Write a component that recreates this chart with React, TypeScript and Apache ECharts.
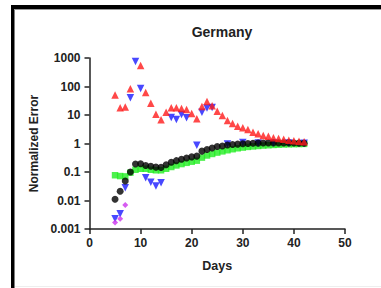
import React, { useEffect, useRef } from "react";
import * as echarts from "echarts";

const redDays = [5, 6, 7, 8, 10, 11, 12, 13, 14, 15, 16, 17, 18, 19, 20, 21, 22, 23, 24, 25, 26, 27, 28, 29, 30, 31, 32, 33, 34, 35, 36, 37, 38, 39, 40, 41, 42];
const redValues = [50, 18, 19, 83, 550, 62, 26, 10.7, 6.8, 12.6, 18, 18, 17, 15.5, 11.3, 7.4, 20, 30, 21, 13.5, 9.6, 6.4, 5.0, 4.0, 3.6, 3.1, 2.5, 2.2, 1.9, 1.8, 1.6, 1.5, 1.4, 1.3, 1.25, 1.2, 1.15];

const blueDays = [5, 6, 7, 8, 9, 10, 11, 12, 13, 14, 16, 17, 18, 19, 21, 22, 23, 24, 27, 30, 33, 36, 39, 42];
const blueValues = [0.0023, 0.0034, 0.028, 40, 750, 85, 0.063, 0.044, 0.032, 0.042, 8.2, 6.9, 10.4, 8, 0.87, 12.5, 17.5, 18.5, 0.97, 1.08, 1.05, 1.05, 1.04, 1.02];

const blackDays = [5, 6, 7, 8, 9, 10, 11, 12, 13, 14, 15, 16, 17, 18, 19, 20, 21, 22, 23, 24, 25, 26, 27, 28, 29, 30, 31, 32, 33, 34, 35, 36, 37, 38, 39, 40, 41, 42];
const blackValues = [0.011, 0.021, 0.048, 0.1, 0.19, 0.195, 0.17, 0.16, 0.148, 0.145, 0.18, 0.22, 0.25, 0.28, 0.31, 0.34, 0.36, 0.54, 0.62, 0.7, 0.78, 0.82, 0.88, 0.92, 0.95, 0.98, 1.0, 1.02, 1.03, 1.04, 1.05, 1.05, 1.05, 1.05, 1.05, 1.04, 1.03, 1.02];

const greenDays = [5, 6, 7, 8, 9, 10, 11, 12, 13, 14, 15, 16, 17, 18, 19, 20, 21, 22, 23, 24, 25, 26, 27, 28, 29, 30, 31, 32, 33, 34, 35, 36, 37, 38, 39, 40, 41, 42];
const greenValues = [0.077, 0.072, 0.07, 0.095, 0.12, 0.13, 0.13, 0.12, 0.115, 0.115, 0.13, 0.15, 0.17, 0.19, 0.21, 0.23, 0.25, 0.32, 0.38, 0.43, 0.48, 0.53, 0.58, 0.63, 0.68, 0.72, 0.76, 0.79, 0.82, 0.85, 0.87, 0.89, 0.91, 0.93, 0.94, 0.95, 0.96, 0.97];

const purpleDays = [5, 6, 7];
const purpleValues = [0.0017, 0.0023, 0.0069];

const yTickLabels = ["0.001", "0.01", "0.1", "1", "10", "100", "1000"];

const pairs = (xs: number[], ys: number[]) => xs.map((x, i) => [x, ys[i]]);

export default function App() {
  const ref = useRef<HTMLDivElement>(null);
  useEffect(() => {
    if (!ref.current) return;
    const chart = echarts.init(ref.current, undefined, { renderer: "svg" });
    const font = "'Liberation Sans', Arial, sans-serif";
    const axisColor = "#222";
    chart.setOption({
      animation: false,
      backgroundColor: "#fff",
      title: {
        text: "Germany",
        left: 217,
        top: 20,
        textAlign: "center",
        textStyle: { fontFamily: font, fontWeight: "bold", fontSize: 14, color: "#222" },
      },
      grid: { left: 89.5, top: 58, width: 255.5, height: 171, containLabel: false },
      xAxis: {
        type: "value",
        min: 0,
        max: 50,
        interval: 10,
        name: "Days",
        nameLocation: "middle",
        nameGap: 30,
        nameTextStyle: { fontFamily: font, fontWeight: "bold", fontSize: 12.5, color: "#222" },
        axisLine: { onZero: false, lineStyle: { color: axisColor, width: 1.5 } },
        axisTick: { show: true, inside: false, length: 5, lineStyle: { color: axisColor, width: 1.5 } },
        axisLabel: { margin: 8, fontFamily: font, fontWeight: "bold", fontSize: 12, color: "#222" },
        splitLine: { show: false },
      },
      yAxis: {
        type: "log",
        logBase: 10,
        min: 0.001,
        max: 1000,
        name: "Normalized Error",
        nameLocation: "middle",
        nameGap: 50,
        nameTextStyle: { fontFamily: font, fontWeight: "bold", fontSize: 12, color: "#222" },
        axisLine: { onZero: false, lineStyle: { color: axisColor, width: 1.5 } },
        axisTick: { show: true, inside: false, length: 5, lineStyle: { color: axisColor, width: 1.5 } },
        axisLabel: {
          margin: 9,
          fontFamily: font,
          fontWeight: "bold",
          fontSize: 12,
          color: "#222",
          formatter: (v: number) => {
            const e = Math.round(Math.log10(v));
            return yTickLabels[e + 3] ?? String(v);
          },
        },
        splitLine: { show: false },
      },
      series: [
        {
          type: "scatter",
          name: "green",
          data: pairs(greenDays, greenValues),
          symbol: "rect",
          symbolSize: 6.5,
          itemStyle: { color: "#22ee22" },
          z: 1,
        },
        {
          type: "scatter",
          name: "blue",
          data: pairs(blueDays, blueValues),
          symbol: "triangle",
          symbolRotate: 180,
          symbolSize: 7.5,
          itemStyle: { color: "#1a1aff" },
          z: 2,
        },
        {
          type: "scatter",
          name: "black",
          data: pairs(blackDays, blackValues),
          symbol: "circle",
          symbolSize: 7,
          itemStyle: { color: "#000" },
          z: 3,
        },
        {
          type: "scatter",
          name: "red",
          data: pairs(redDays, redValues),
          symbol: "triangle",
          symbolSize: 7.5,
          itemStyle: { color: "#ff1a1a" },
          z: 4,
        },
        {
          type: "scatter",
          name: "purple",
          data: pairs(purpleDays, purpleValues),
          symbol: "diamond",
          symbolSize: 6,
          itemStyle: { color: "#cc33ee" },
          z: 5,
        },
      ],
      graphic: [
        { type: "rect", shape: { x: 11, y: 5, width: 3.5, height: 283 }, style: { fill: "#000" }, silent: true },
        { type: "rect", shape: { x: 11, y: 5, width: 370, height: 4 }, style: { fill: "#000" }, silent: true },
        { type: "rect", shape: { x: 14, y: 9, width: 367, height: 1 }, style: { fill: "#999" }, silent: true },
        { type: "rect", shape: { x: 15, y: 286, width: 366, height: 1 }, style: { fill: "#eee" }, silent: true },
      ],
    });
    return () => chart.dispose();
  }, []);
  return (
    <div
      ref={ref}
      style={{ position: "fixed", left: 0, top: 0, width: 381, height: 288 }}
    />
  );
}
